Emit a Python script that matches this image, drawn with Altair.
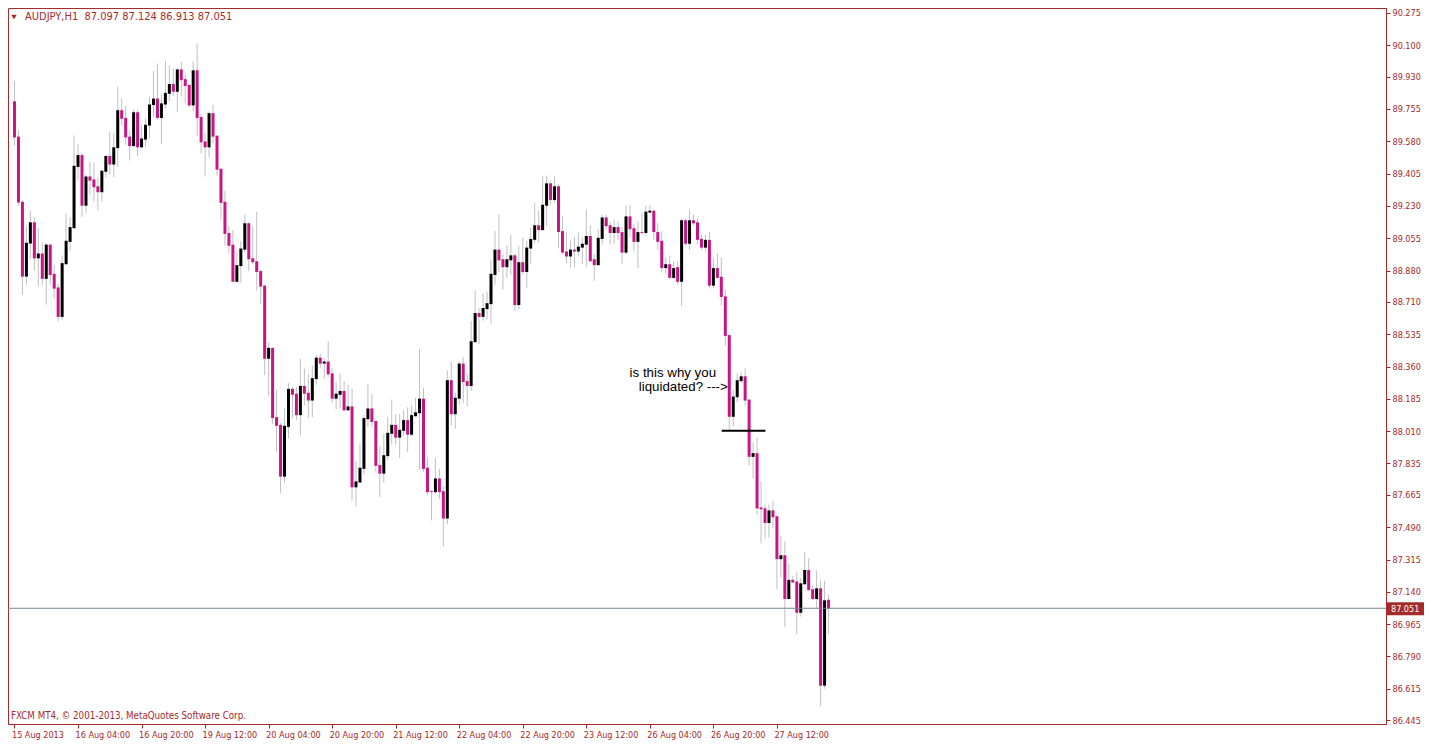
import altair as alt
import pandas as pd

# ---- data (AUDJPY, H1) ----
opens = [89.796, 89.605, 89.252, 88.847, 89.026, 89.141, 88.946, 88.972, 88.835, 89.020,
         88.862, 88.788, 88.629, 88.914, 89.035, 89.109, 89.441, 89.505, 89.231, 89.389,
         89.373, 89.336, 89.304, 89.415, 89.500, 89.454, 89.543, 89.748, 89.706, 89.605,
         89.554, 89.737, 89.547, 89.589, 89.665, 89.776, 89.811, 89.706, 89.779, 89.837,
         89.890, 89.848, 89.969, 89.916, 89.885, 89.774, 89.964, 89.711, 89.579, 89.547,
         89.732, 89.610, 89.431, 89.252, 89.083, 89.020, 88.819, 88.904, 88.993, 89.136,
         88.946, 88.930, 88.877, 88.798, 88.402, 88.461, 88.086, 88.044, 87.764, 88.033,
         88.239, 88.213, 88.097, 88.255, 88.218, 88.176, 88.292, 88.408, 88.376, 88.387,
         88.323, 88.186, 88.207, 88.228, 88.123, 88.144, 87.706, 87.732, 87.806, 88.075,
         88.133, 88.065, 87.827, 87.780, 87.875, 87.996, 88.044, 87.975, 88.012, 88.070,
         87.991, 88.091, 88.107, 88.186, 87.812, 87.685, 87.680, 87.754, 87.685, 87.537,
         88.286, 88.102, 88.186, 88.376, 88.281, 88.255, 88.492, 88.650, 88.629, 88.671,
         88.698, 88.856, 88.993, 88.941, 88.898, 88.935, 88.962, 88.693, 88.925, 88.872,
         88.999, 89.046, 89.125, 89.099, 89.231, 89.352, 89.262, 89.336, 89.093, 88.983,
         88.956, 88.993, 88.983, 89.004, 89.020, 89.067, 88.941, 88.909, 89.051, 89.167,
         89.125, 89.083, 89.115, 89.088, 88.977, 89.173, 89.109, 89.035, 89.088, 89.083,
         89.194, 89.204, 89.088, 89.041, 88.893, 88.914, 88.840, 88.898, 88.819, 89.152,
         89.025, 89.152, 89.141, 89.051, 89.004, 89.046, 88.798, 88.893, 88.846, 88.740,
         88.530, 88.088, 88.194, 88.281, 88.307, 88.181, 87.871, 87.891, 87.597, 87.592,
         87.513, 87.581, 87.549, 87.317, 87.338, 87.101, 87.205, 87.196, 87.027, 87.181,
         87.258, 87.154, 87.101, 87.159, 86.632, 87.097]
highs = [89.907, 89.642, 89.262, 89.120, 89.204, 89.169, 89.109, 89.030, 89.030, 89.022,
         88.909, 88.809, 88.962, 89.190, 89.169, 89.612, 89.563, 89.517, 89.401, 89.468,
         89.464, 89.385, 89.426, 89.507, 89.632, 89.626, 89.876, 89.811, 89.774, 89.637,
         89.753, 89.748, 89.669, 89.706, 89.820, 89.960, 90.001, 89.833, 90.017, 89.990,
         89.974, 89.974, 90.011, 89.943, 89.890, 90.011, 90.111, 89.727, 89.626, 89.742,
         89.779, 89.612, 89.436, 89.310, 89.120, 89.099, 88.988, 89.041, 89.183, 89.138,
         89.120, 89.199, 88.883, 88.800, 88.492, 88.463, 88.234, 88.054, 88.133, 88.270,
         88.250, 88.250, 88.402, 88.350, 88.318, 88.365, 88.424, 88.429, 88.408, 88.497,
         88.350, 88.276, 88.323, 88.281, 88.260, 88.239, 87.849, 87.944, 88.097, 88.265,
         88.213, 88.067, 87.928, 87.996, 88.086, 88.181, 88.102, 88.102, 88.123, 88.139,
         88.149, 88.191, 88.455, 88.244, 87.865, 87.687, 87.865, 87.806, 87.711, 88.339,
         88.387, 88.218, 88.387, 88.413, 88.323, 88.608, 88.772, 88.677, 88.756, 88.766,
         88.935, 89.093, 89.183, 88.967, 89.014, 89.072, 88.972, 89.014, 89.057, 89.041,
         89.115, 89.246, 89.204, 89.389, 89.394, 89.362, 89.389, 89.347, 89.178, 89.088,
         89.041, 89.062, 89.088, 89.057, 89.210, 89.125, 88.967, 89.104, 89.183, 89.183,
         89.141, 89.152, 89.146, 89.115, 89.231, 89.236, 89.130, 89.146, 89.194, 89.231,
         89.236, 89.206, 89.136, 89.093, 88.951, 88.962, 88.930, 88.930, 89.162, 89.162,
         89.210, 89.183, 89.162, 89.072, 89.072, 89.088, 88.946, 88.972, 88.951, 88.777,
         88.532, 88.234, 88.323, 88.328, 88.350, 88.183, 87.949, 87.975, 87.738, 87.612,
         87.612, 87.634, 87.551, 87.442, 87.412, 87.291, 87.226, 87.247, 87.217, 87.354,
         87.323, 87.175, 87.256, 87.207, 87.200, 87.124]
lows = [89.557, 89.231, 88.747, 88.803, 88.941, 88.879, 88.794, 88.800, 88.695, 88.800,
        88.726, 88.603, 88.615, 88.912, 88.989, 89.107, 89.367, 89.169, 89.190, 89.292,
        89.253, 89.204, 89.253, 89.385, 89.401, 89.385, 89.441, 89.665, 89.560, 89.475,
        89.547, 89.500, 89.542, 89.547, 89.595, 89.711, 89.697, 89.565, 89.758, 89.796,
        89.827, 89.737, 89.821, 89.785, 89.763, 89.742, 89.610, 89.515, 89.389, 89.494,
        89.568, 89.394, 89.152, 89.014, 88.972, 88.817, 88.817, 88.814, 88.977, 88.877,
        88.914, 88.772, 88.698, 88.313, 88.197, 88.049, 87.896, 87.675, 87.732, 87.970,
        88.081, 88.070, 87.987, 88.149, 88.081, 88.086, 88.260, 88.350, 88.292, 88.302,
        88.165, 88.128, 88.133, 88.118, 88.118, 87.632, 87.601, 87.730, 87.775, 88.033,
        88.033, 87.785, 87.653, 87.732, 87.854, 87.938, 87.938, 87.865, 87.985, 87.896,
        87.985, 88.089, 87.801, 87.791, 87.664, 87.527, 87.669, 87.643, 87.385, 87.506,
        88.039, 88.023, 88.154, 88.160, 88.144, 88.228, 88.490, 88.482, 88.608, 88.613,
        88.592, 88.803, 88.872, 88.777, 88.840, 88.856, 88.661, 88.671, 88.856, 88.788,
        88.914, 89.030, 89.030, 89.097, 89.120, 89.236, 89.246, 88.999, 88.967, 88.920,
        88.898, 88.898, 88.956, 88.914, 88.898, 88.925, 88.824, 88.907, 89.020, 89.099,
        89.020, 89.025, 89.046, 88.914, 88.967, 89.062, 88.983, 88.893, 89.072, 89.067,
        89.188, 89.046, 88.993, 88.872, 88.862, 88.835, 88.835, 88.803, 88.687, 89.014,
        88.993, 89.125, 89.020, 88.993, 88.983, 88.782, 88.782, 88.835, 88.690, 88.473,
        88.017, 88.035, 88.167, 88.270, 88.149, 87.824, 87.754, 87.558, 87.402, 87.428,
        87.433, 87.486, 87.154, 87.217, 86.948, 87.099, 87.186, 86.911, 87.006, 87.179,
        87.147, 87.096, 87.048, 86.521, 86.616, 86.913]
closes = [89.601, 89.248, 88.847, 89.030, 89.141, 88.946, 88.972, 88.835, 89.020, 88.856,
          88.782, 88.629, 88.920, 89.041, 89.115, 89.447, 89.505, 89.231, 89.389, 89.367,
          89.331, 89.304, 89.420, 89.500, 89.454, 89.547, 89.748, 89.702, 89.601, 89.554,
          89.737, 89.547, 89.595, 89.669, 89.779, 89.811, 89.706, 89.785, 89.842, 89.890,
          89.848, 89.969, 89.911, 89.879, 89.774, 89.964, 89.706, 89.574, 89.547, 89.732,
          89.605, 89.426, 89.246, 89.078, 89.014, 88.819, 88.909, 88.999, 89.136, 88.941,
          88.925, 88.872, 88.793, 88.402, 88.461, 88.081, 88.039, 87.764, 88.039, 88.239,
          88.207, 88.097, 88.255, 88.213, 88.176, 88.297, 88.408, 88.376, 88.387, 88.318,
          88.186, 88.213, 88.228, 88.123, 88.144, 87.706, 87.738, 87.812, 88.081, 88.133,
          88.060, 87.822, 87.780, 87.880, 88.001, 88.044, 87.975, 88.017, 88.070, 87.991,
          88.097, 88.112, 88.186, 87.806, 87.680, 87.680, 87.754, 87.680, 87.537, 88.286,
          88.102, 88.191, 88.376, 88.276, 88.255, 88.497, 88.650, 88.629, 88.677, 88.703,
          88.862, 88.993, 88.935, 88.898, 88.941, 88.962, 88.693, 88.925, 88.872, 89.004,
          89.051, 89.125, 89.099, 89.236, 89.352, 89.262, 89.336, 89.088, 88.977, 88.956,
          88.993, 88.983, 89.009, 89.025, 89.067, 88.930, 88.909, 89.057, 89.167, 89.120,
          89.083, 89.115, 89.083, 88.977, 89.173, 89.104, 89.035, 89.088, 89.083, 89.199,
          89.204, 89.088, 89.035, 88.893, 88.914, 88.840, 88.893, 88.819, 89.152, 89.025,
          89.152, 89.136, 89.046, 89.004, 89.046, 88.798, 88.893, 88.840, 88.737, 88.526,
          88.088, 88.197, 88.286, 88.307, 88.176, 87.871, 87.891, 87.592, 87.587, 87.513,
          87.581, 87.544, 87.317, 87.338, 87.101, 87.205, 87.191, 87.027, 87.186, 87.258,
          87.149, 87.101, 87.159, 86.632, 87.094, 87.051]

time_tick_bars = [0, 16, 32, 48, 64, 80, 96, 112, 128, 144, 160, 176, 192]
time_tick_labels = ["15 Aug 2013", "16 Aug 04:00", "16 Aug 20:00", "19 Aug 12:00",
                    "20 Aug 04:00", "20 Aug 20:00", "21 Aug 12:00", "22 Aug 04:00",
                    "22 Aug 20:00", "23 Aug 12:00", "26 Aug 04:00", "26 Aug 20:00",
                    "27 Aug 12:00"]
price_ticks = [90.275, 90.100, 89.930, 89.755, 89.580, 89.405, 89.230, 89.055, 88.880,
               88.710, 88.535, 88.360, 88.185, 88.010, 87.835, 87.665, 87.490, 87.315,
               87.140, 86.965, 86.790, 86.615, 86.445]
last_price = [87.051]
last_price_label = ["87.051"]
header_text = "AUDJPY,H1\u00a0 87.097 87.124 86.913 87.051"
footer_text = "FXCM MT4, \u00a9 2001-2013, MetaQuotes Software Corp."
note_bars = [154.9, 157.2]
note_prices = [88.323, 88.250]
note_texts = ["is this why you", "liquidated? --->"]
level_bar_from = [178.1]
level_bar_to = [189.1]
level_price = [88.012]

# ---- styling ----
BROWN = "#A52A2A"
BEAR = "#C71585"
BULL = "#000000"
WICK = "#C0C0C0"
AXFONT = "Tahoma, 'DejaVu Sans Condensed', 'DejaVu Sans'"
W, H = 1378, 716

df = pd.DataFrame({"i": list(range(len(opens))), "open": opens, "high": highs,
                   "low": lows, "close": closes})
df["dir"] = ["up" if c >= o else "down" for o, c in zip(opens, closes)]

xs = alt.Scale(domain=[-0.375, -0.375 + W / 4], nice=False, zero=False)
ys = alt.Scale(domain=[86.4243, 90.3015], nice=False, zero=False)

label_arr = "[" + ",".join("'" + s + "'" for s in time_tick_labels) + "]"
x_axis = alt.Axis(values=time_tick_bars, labelExpr=label_arr + "[round(datum.value/16)]",
                  title=None, grid=False, orient="bottom", labelAlign="left", labelOffset=-3,
                  labelBaseline="top", tickSize=4, labelPadding=2, labelOverlap=False,
                  labelFlush=False, labelBound=False, domainColor=BROWN, tickColor=BROWN,
                  labelColor=BROWN, labelFont=AXFONT, labelFontSize=9)
y_axis = alt.Axis(values=price_ticks, format=".3f", title=None, grid=False, orient="right",
                  tickSize=4, labelPadding=2, labelOverlap=False, labelFlush=False,
                  labelBound=False, domainColor=BROWN, tickColor=BROWN, labelColor=BROWN,
                  labelFont=AXFONT, labelFontSize=9, labelAlign="left",
                  labelBaseline="middle")

X = alt.X("i:Q", scale=xs, axis=x_axis)
Y = alt.Y("low:Q", scale=ys, axis=y_axis)

base = alt.Chart(df)
wicks = base.mark_rule(color=WICK, strokeWidth=1).encode(x=X, y=Y, y2="high:Q")
bodies = base.mark_bar(size=3).encode(
    x=X,
    y=alt.Y("open:Q", scale=ys, axis=y_axis),
    y2="close:Q",
    color=alt.Color("dir:N", scale=alt.Scale(domain=["up", "down"], range=[BULL, BEAR]),
                    legend=None),
)

lp = pd.DataFrame({"p": last_price, "t": last_price_label})
price_line = alt.Chart(lp).mark_rule(color="#778899", strokeWidth=1).encode(
    y=alt.Y("p:Q", scale=ys, axis=y_axis))
price_box = alt.Chart(lp).mark_rect(color=BROWN, yOffset=-6, y2Offset=7).encode(
    x=alt.value(W + 1), x2=alt.value(W + 38),
    y=alt.Y("p:Q", scale=ys, axis=y_axis), y2="p:Q")
price_txt = alt.Chart(lp).mark_text(color="white", align="left", baseline="middle",
                                    font=AXFONT, fontSize=9, dy=0.5).encode(
    x=alt.value(W + 5), y=alt.Y("p:Q", scale=ys, axis=y_axis), text="t:N")

lv = pd.DataFrame({"a": level_bar_from, "b": level_bar_to, "p": level_price})
level = alt.Chart(lv).mark_rule(color="black", strokeWidth=2).encode(
    x=alt.X("a:Q", scale=xs, axis=x_axis), x2="b:Q",
    y=alt.Y("p:Q", scale=ys, axis=y_axis))

nt = pd.DataFrame({"x": note_bars, "p": note_prices, "t": note_texts})
notes = alt.Chart(nt).mark_text(align="left", baseline="middle", color="black",
                                font="'Liberation Sans', Arial", fontSize=13.3).encode(
    x=alt.X("x:Q", scale=xs, axis=x_axis), y=alt.Y("p:Q", scale=ys, axis=y_axis),
    text="t:N")

hd = pd.DataFrame({"t": [header_text]})
header = alt.Chart(hd).mark_text(align="left", baseline="middle", color=BROWN,
                                 font=AXFONT, fontSize=11).encode(
    x=alt.value(17), y=alt.value(9), text="t:N")
tri = alt.Chart(hd).mark_point(shape="triangle-down", filled=True, color=BROWN, size=30,
                               opacity=1).encode(x=alt.value(6), y=alt.value(9))
ft = pd.DataFrame({"t": [footer_text]})
footer = alt.Chart(ft).mark_text(align="left", baseline="middle", color=BROWN,
                                 font=AXFONT, fontSize=9.7).encode(
    x=alt.value(3), y=alt.value(H - 8), text="t:N")

chart = alt.layer(wicks, bodies, price_line, level, notes, price_box, price_txt,
                  header, tri, footer).properties(
    width=W, height=H,
    autosize=alt.AutoSizeParams(type="none"),
    padding={"left": 0, "top": 0, "right": 38, "bottom": 16},
    background="white",
).configure_view(stroke=BROWN, strokeWidth=1)

chart.save("out.html", embed_options={"renderer": "svg", "actions": False})
